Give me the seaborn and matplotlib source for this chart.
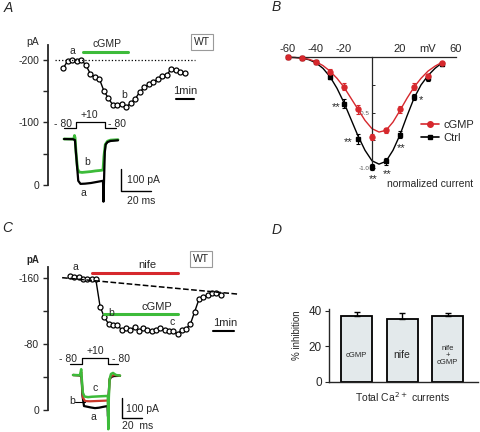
import matplotlib
matplotlib.use("Agg")
import matplotlib.pyplot as plt
from matplotlib.lines import Line2D
import seaborn as sns

sns.set_style("ticks")
plt.rcParams["font.family"] = ["Liberation Sans", "DejaVu Sans"]
plt.rcParams["font.size"] = 7.5
plt.rcParams["axes.unicode_minus"] = False

W, H = 480, 432
RED = "#d6282d"
GREEN = "#3dbb3a"
BAR_FILL = "#e3e9eb"

# A: Ca current amplitude, one sweep every 15 s (pA)
A_TIME_S = [0, 15, 30, 45, 60, 75, 90, 105, 120, 135, 150, 165, 180, 195,
            210, 225, 240, 255, 270, 285, 300, 315, 330, 345, 360, 375, 390, 405]
A_CURRENT = [-187, -199, -200, -199, -200, -192, -178, -172, -170, -151, -139, -128, -128, -130,
             -125, -131, -138, -149, -156, -161, -164, -170, -175, -176, -186, -184, -180, -179]
A_CGMP_S = [65, 215]
A_REF_PA = -200

# A inset: test pulse and sweeps a (ctrl) / b (cGMP)
A_STEP_MS = [0, 8, 8, 27.5, 27.5, 34.5]
A_STEP_MV = [-80, -80, 10, 10, -80, -80]
A_SWEEP_A_MS = [0, 6, 7.3, 8.3, 9.5, 11, 14, 18, 22, 26, 26.3, 27.2, 27.8, 29, 31, 36]
A_SWEEP_A_PA = [0, -1, -5, -90, -190, -204, -203, -200, -195, -190, -285, -60, -25, -14, -9, -6]
A_SWEEP_B_MS = [0, 6.5, 7.0, 7.4, 8.0, 9.0, 10, 12, 15, 18, 21, 24, 26, 26.6, 27.5, 29, 31, 36]
A_SWEEP_B_PA = [0, 0, 16, 5, -60, -135, -150, -152, -150, -148, -145, -143, -141, -80, -25, -10, -5, -3]

# B: normalized I-V relation
IV_MV = [-60, -50, -40, -30, -20, -10, 0, 10, 20, 30, 40, 50]
IV_CTRL = [0, -0.005, -0.045, -0.18, -0.42, -0.74, -0.99, -0.94, -0.70, -0.36, -0.19, -0.06]
IV_CTRL_SE = [0, 0.005, 0.01, 0.02, 0.04, 0.045, 0.03, 0.03, 0.03, 0.03, 0.02, 0.015]
IV_CGMP = [0, -0.003, -0.045, -0.13, -0.265, -0.47, -0.72, -0.66, -0.47, -0.265, -0.17, -0.05]
IV_CGMP_SE = [0, 0.005, 0.01, 0.025, 0.03, 0.04, 0.03, 0.02, 0.03, 0.03, 0.02, 0.01]
FIT_MV = [-60, -55, -50, -45, -40, -35, -30, -25, -20, -15, -10, -5, 0, 5,
          10, 15, 20, 25, 30, 35, 40, 45, 50]
FIT_CTRL = [0, -0.002, -0.008, -0.022, -0.05, -0.1, -0.175, -0.28, -0.41, -0.56, -0.71, -0.84,
            -0.935, -0.965, -0.94, -0.84, -0.70, -0.53, -0.37, -0.25, -0.165, -0.1, -0.05]
FIT_CGMP = [0, -0.002, -0.006, -0.018, -0.04, -0.075, -0.125, -0.19, -0.27, -0.37, -0.47, -0.57,
            -0.645, -0.675, -0.66, -0.585, -0.48, -0.37, -0.27, -0.19, -0.125, -0.08, -0.045]

# C: Ca current, one sweep every 12 s (pA)
C_TIME_S = [0, 12, 24, 36, 48, 60, 72, 84, 96, 108, 120, 132, 144, 156, 168, 180, 192, 204,
            216, 228, 240, 252, 264, 276, 288, 300, 312, 324, 336, 348, 360, 372, 384, 396, 408, 420]
C_CURRENT = [-162, -161, -161, -158, -158, -158, -158, -125, -112, -104, -103, -103, -97, -99,
             -97, -100, -96, -99, -97, -95, -97, -99, -97, -96, -95, -92, -97, -98,
             -104, -119, -134, -137, -139, -141, -142, -139]
C_NIFE_S = [62, 302]
C_CGMP_S = [94, 302]
C_RUNDOWN_S = [-22, 472]
C_RUNDOWN_PA = [-160, -140]

# C inset: test pulse and sweeps a (ctrl), b (nife), c (nife + cGMP)
C_STEP_MS = [0, 11.7, 11.7, 38.3, 38.3, 48.3]
C_STEP_MV = [-80, -80, 10, 10, -80, -80]
C_SWEEP_A_MS = [3, 10, 11.5, 12.5, 14, 17, 21, 25, 29, 33, 37.5, 38, 38.6, 39.5, 41, 44, 50]
C_SWEEP_A_PA = [0, -2, -10, -100, -150, -153, -157, -160, -158, -154, -150, -200, -100, -25, -10, -5, -4]
C_SWEEP_B_MS = [3, 10, 11.3, 12, 13, 15, 20, 25, 30, 35, 38, 38.3, 38.8, 39.5, 41, 44, 50]
C_SWEEP_B_PA = [0, -1, 15, -40, -110, -126, -127, -126, -125, -124, -123, -260, -100, -20, -5, 0, -3]
C_SWEEP_C_MS = [3, 10, 11.2, 11.8, 12.8, 14.5, 18, 22, 26, 30, 34, 37.8, 38.3, 38.8, 39.6, 41, 43, 46, 50]
C_SWEEP_C_PA = [0, -1, 28, -20, -85, -104, -107, -105, -104, -103, -102, -101, -262, -110, -20, 5, 10, 0, -3]

# D: % inhibition of total Ca2+ currents
D_LABELS = ["cGMP", "nife", "nife\n+\ncGMP"]
D_INHIB = [37.0, 35.1, 37.0]
D_SEM = [2.3, 3.4, 1.9]

fig = plt.figure(figsize=(W / 100, H / 100), dpi=100)


def rect(x0, y0, x1, y1):
    return [x0 / W, 1 - y1 / H, (x1 - x0) / W, (y1 - y0) / H]


def calibrate(ax, box, origin, scale):
    # box in pixels, origin = pixel of data (0, 0), scale = pixels per data unit
    x0, y0, x1, y1 = box
    ox, oy = origin
    sx, sy = scale
    ax.set_xlim((x0 - ox) / sx, (x1 - ox) / sx)
    ax.set_ylim((oy - y1) / sy, (oy - y0) / sy)


def ftext(px, py, s, **kw):
    kw.setdefault("ha", "center")
    kw.setdefault("va", "center")
    fig.text(px / W, 1 - py / H, s, **kw)


def trace(ax, x, y, **kw):
    sns.lineplot(x=x, y=y, ax=ax, estimator=None, sort=False, **kw)


def current_axis(ax, ticks, minor):
    for side in ("top", "right", "bottom"):
        ax.spines[side].set_visible(False)
    ax.spines["left"].set_linewidth(1.3)
    ax.set_xticks([])
    ax.set_yticks(ticks)
    ax.set_yticklabels([str(t) for t in ticks])
    ax.set_yticks(minor, minor=True)
    ax.tick_params(axis="y", which="both", length=3.5, width=1, pad=3, labelsize=7.5)
    ax.patch.set_alpha(0)


def time_course(ax, t_s, vals):
    sns.lineplot(x=[t / 60 for t in t_s], y=vals, ax=ax, color="black", lw=1,
                 marker="o", markersize=3.6, markerfacecolor="white",
                 markeredgecolor="black", markeredgewidth=0.9)


def wt_box(px, py):
    ftext(px, py, "WT", fontsize=7.5,
          bbox=dict(boxstyle="square,pad=0.25", fc="white", ec="#9a9a9a", lw=0.8))


# ---------------- A ----------------
box = (48, 45, 200, 185)
axA = fig.add_axes(rect(*box))
time_course(axA, A_TIME_S, A_CURRENT)
axA.plot([-0.45, 7.3], [A_REF_PA, A_REF_PA], ls=":", color="black", lw=0.9)
axA.plot([t / 60 for t in A_CGMP_S], [-213, -213], color=GREEN, lw=2.2, clip_on=False)
axA.plot([6.26, 7.26], [-137.6, -137.6], color="black", lw=1.5)
current_axis(axA, [0, -100, -200], [-50, -150])
calibrate(axA, box, (63.3, 185), (18, -0.625))

box = (50, 105, 135, 132)
axAv = fig.add_axes(rect(*box))
trace(axAv, A_STEP_MS, A_STEP_MV, color="black", lw=0.9)
axAv.axis("off")
calibrate(axAv, box, (64, 122.67), (1.5, 0.0667))

box = (55, 130, 165, 210)
axAi = fig.add_axes(rect(*box))
trace(axAi, A_SWEEP_B_MS, A_SWEEP_B_PA, color=GREEN, lw=2)
trace(axAi, A_SWEEP_A_MS, A_SWEEP_A_PA, color="black", lw=1.6)
axAi.plot([38, 38, 58], [-136, -236, -236], color="black", lw=1)
axAi.axis("off")
calibrate(axAi, box, (64, 139), (1.5, 0.22))

ftext(8, 8, "A", fontsize=10, style="italic")
ftext(33, 42, "pA")
ftext(107, 44, "cGMP")
ftext(72, 51, "a")
ftext(124, 95, "b")
ftext(185, 91, "1min", fontsize=8)
wt_box(202, 42)
ftext(63, 124, "- 80", fontsize=7.5)
ftext(89, 115, "+10", fontsize=7.5)
ftext(117, 124, "- 80", fontsize=7.5)
ftext(87, 162, "b")
ftext(83, 193, "a")
ftext(127, 180, "100 pA", ha="left")
ftext(141, 201, "20 ms")

# ---------------- B ----------------
box = (280, 35, 478, 195)
axB = fig.add_axes(rect(*box))
sns.lineplot(x=FIT_MV, y=FIT_CTRL, ax=axB, color="black", lw=1)
sns.lineplot(x=FIT_MV, y=FIT_CGMP, ax=axB, color=RED, lw=1)
axB.errorbar(IV_MV, IV_CTRL, yerr=IV_CTRL_SE, fmt="s", color="black", ms=3.2,
             capsize=1.5, elinewidth=0.8, capthick=0.8, zorder=4)
axB.errorbar(IV_MV, IV_CGMP, yerr=IV_CGMP_SE, fmt="o", color=RED, ms=3.6,
             capsize=1.5, elinewidth=0.8, capthick=0.8, zorder=5)
axB.spines["bottom"].set_visible(False)
axB.spines["right"].set_visible(False)
axB.spines["top"].set_position(("data", 0))
axB.spines["top"].set_bounds(-60, 60)
axB.spines["left"].set_position(("data", 0))
axB.spines["left"].set_bounds(-1.02, 0)
for s in ("top", "left"):
    axB.spines[s].set_linewidth(0.9)
axB.xaxis.set_ticks_position("top")
axB.set_xticks([-60, -40, -20, 0, 20, 40, 60])
axB.set_xticklabels(["-60", "-40", "-20", "", "20", "mV", "60"])
axB.tick_params(axis="x", length=0, pad=2.5, labelsize=8)
axB.set_yticks([-0.5, -1.0])
axB.set_yticklabels(["-0.5", "-1.0"])
axB.set_yticks([-0.25, -0.75], minor=True)
axB.tick_params(axis="y", which="both", length=2, width=0.7, direction="in", pad=1.5,
                labelsize=4.5, labelcolor="#555555")
axB.patch.set_alpha(0)
calibrate(axB, box, (372, 57.3), (1.4, 110.7))

handles = [Line2D([], [], color=RED, marker="o", ms=4, lw=1.2),
           Line2D([], [], color="black", marker="s", ms=3.5, lw=1.2)]
fig.legend(handles, ["cGMP", "Ctrl"], loc="upper left", bbox_to_anchor=(421 / W, 1 - 120 / H),
           frameon=False, fontsize=8, handlelength=1.6, handletextpad=0.45,
           labelspacing=0.25, borderpad=0, borderaxespad=0)

ftext(276, 7, "B", fontsize=10, style="italic")
for px, py, s in [(336, 107, "**"), (348, 142, "**"), (373, 179, "**"),
                  (387, 174, "**"), (401, 148, "**"), (421, 100, "*")]:
    ftext(px, py, s, fontsize=8)
ftext(430, 184, "normalized current")

# ---------------- C ----------------
box = (48, 267, 242, 410)
axC = fig.add_axes(rect(*box))
time_course(axC, C_TIME_S, C_CURRENT)
axC.plot([t / 60 for t in C_RUNDOWN_S], C_RUNDOWN_PA, ls="--", color="black", lw=1.1)
axC.plot([t / 60 for t in C_NIFE_S], [-165.3, -165.3], color=RED, lw=2.2, clip_on=False)
axC.plot([t / 60 for t in C_CGMP_S], [-115.7, -115.7], color=GREEN, lw=2.2)
axC.plot([6.65, 7.65], [-95.5, -95.5], color="black", lw=1.5)
current_axis(axC, [0, -80, -160], [-40, -120])
axC.set_yticklabels(["0", "-80", "-160"])
calibrate(axC, box, (70, 410), (21.5, -0.827))

box = (55, 345, 135, 370)
axCv = fig.add_axes(rect(*box))
trace(axCv, C_STEP_MS, C_STEP_MV, color="black", lw=0.9)
axCv.axis("off")
calibrate(axCv, box, (70, 358.3), (1.0, 0.0756))

box = (55, 365, 165, 432)
axCi = fig.add_axes(rect(*box))
trace(axCi, C_SWEEP_A_MS, C_SWEEP_A_PA, color="black", lw=1.6)
trace(axCi, C_SWEEP_B_MS, C_SWEEP_B_PA, color="#c8382a", lw=1.6)
trace(axCi, C_SWEEP_C_MS, C_SWEEP_C_PA, color=GREEN, lw=1.8)
axCi.plot([5, 15], [-129, -129], color="black", lw=0.8)
axCi.plot([51.7, 51.7, 71.7], [-110, -209, -209], color="black", lw=1)
axCi.axis("off")
calibrate(axCi, box, (70, 375), (1.0, 0.207))

ftext(7, 228, "C", fontsize=10, style="italic")
ftext(33, 260, "pA", fontsize=7, weight="bold")
ftext(75, 267, "a")
ftext(147, 265, "nife", fontsize=8)
ftext(157, 307, "cGMP", fontsize=8)
ftext(111, 313, "b")
ftext(172, 322, "c")
ftext(225, 323, "1min", fontsize=8)
wt_box(201, 259)
ftext(68, 359, "- 80", fontsize=7.5)
ftext(95, 351, "+10", fontsize=7.5)
ftext(121, 359, "- 80", fontsize=7.5)
ftext(72, 401, "b")
ftext(95, 388, "c")
ftext(93, 417, "a")
ftext(126, 409, "100 pA", ha="left")
ftext(138, 426, "20  ms")

# ---------------- D ----------------
box = (329, 309.3, 478, 381.7)
axD = fig.add_axes(rect(*box))
sns.barplot(x=D_LABELS, y=D_INHIB, ax=axD, color=BAR_FILL, saturation=1,
            edgecolor="black", linewidth=1.3, width=0.68, errorbar=None)
axD.errorbar(range(len(D_INHIB)), D_INHIB, yerr=[[0] * len(D_SEM), D_SEM], fmt="none",
             ecolor="black", elinewidth=1, capsize=2.4, capthick=1)
for i, (lab, fs) in enumerate(zip(D_LABELS, [5.5, 7.5, 5.5])):
    axD.text(i, 14.8, lab, ha="center", va="center", fontsize=fs, linespacing=1.0)
axD.spines["top"].set_visible(False)
axD.spines["right"].set_visible(False)
axD.spines["left"].set_linewidth(1)
axD.spines["bottom"].set_linewidth(1)
axD.set_yticks([0, 20, 40])
axD.tick_params(axis="y", length=3, pad=2, labelsize=8.5)
axD.tick_params(axis="x", length=0, labelbottom=False)
axD.set_xlabel("")
axD.set_ylabel("")
calibrate(axD, box, (356.7, 381.7), (45.4, 1.775))

ftext(277, 230, "D", fontsize=10, style="italic")
ftext(297, 335, "% inhibition", rotation=90, fontsize=7)
ftext(403, 397, "Total Ca$^{2+}$ currents", fontsize=7.5)

fig.savefig("out.png", dpi=100)
